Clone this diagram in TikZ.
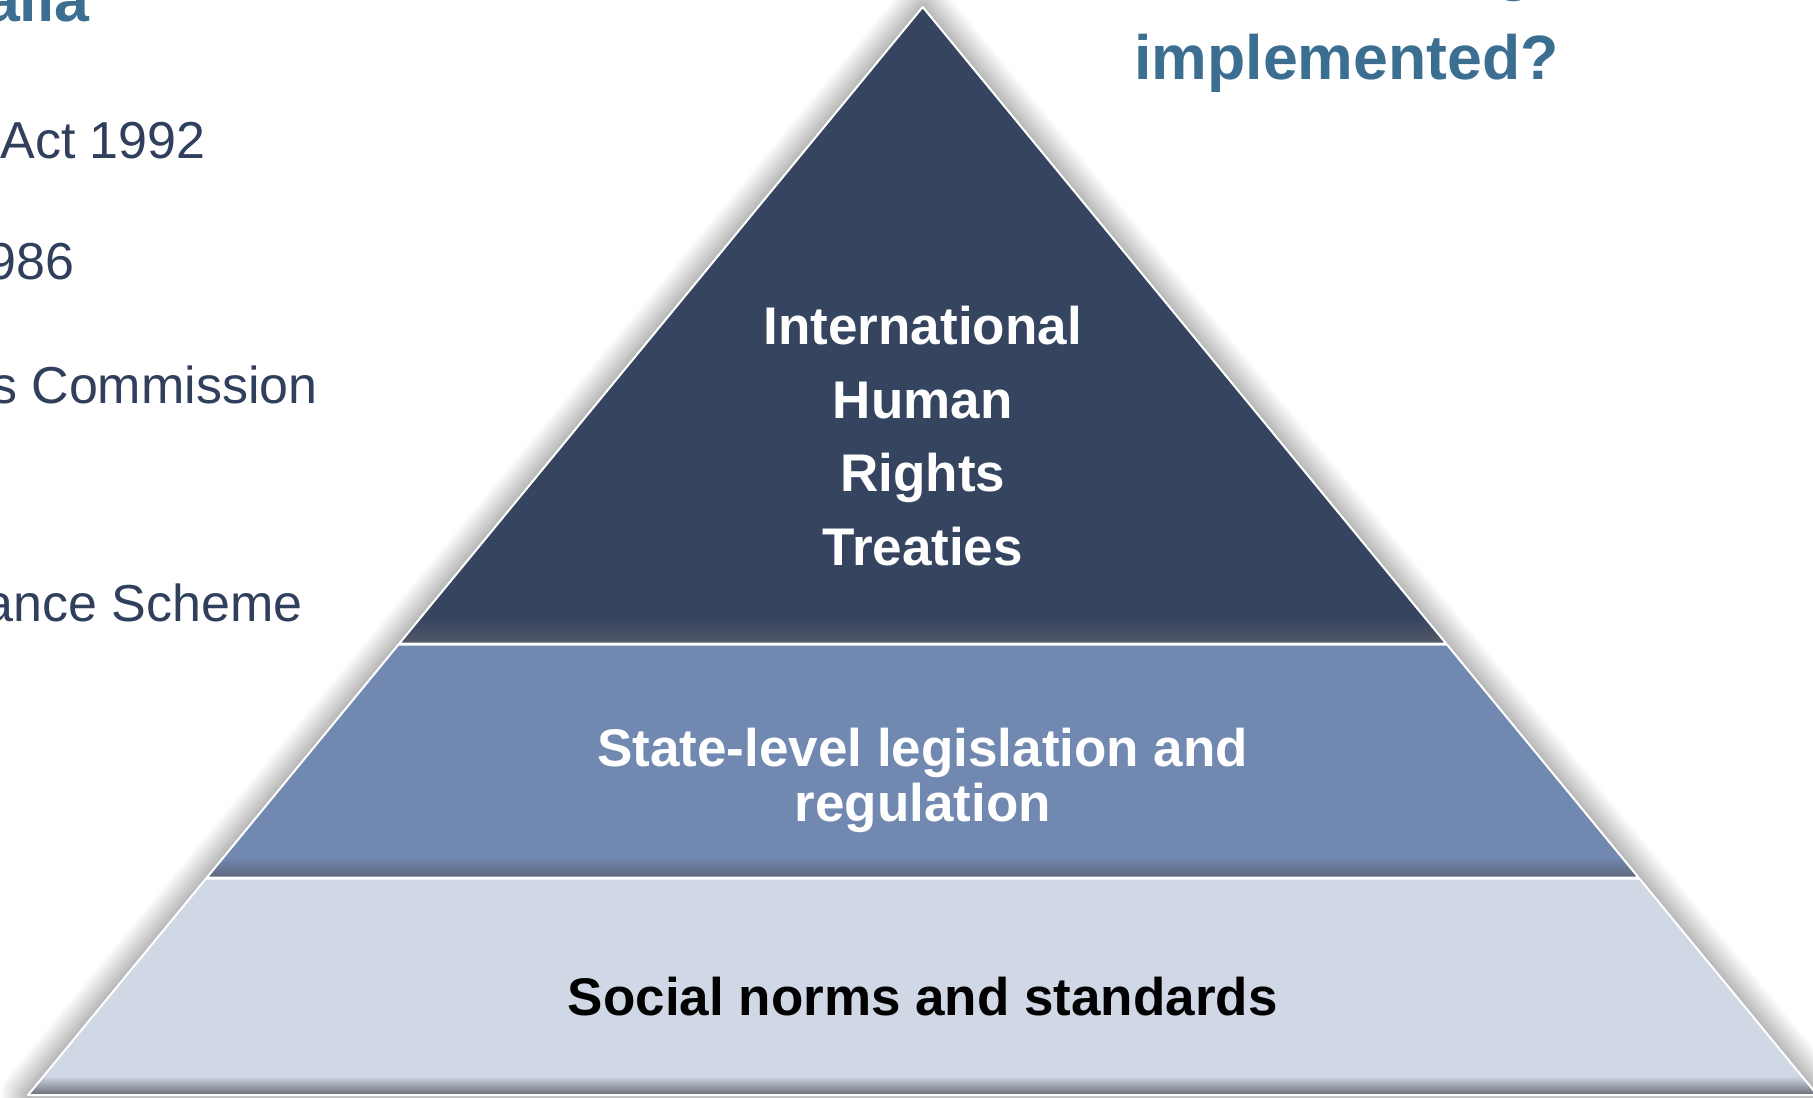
\documentclass[tikz,border=0pt]{standalone}
\usepackage{fontspec}
\setmainfont{Liberation Sans}
\usetikzlibrary{shadows.blur}

\definecolor{tierTop}{HTML}{36455F}
\definecolor{tierMid}{HTML}{7189B1}
\definecolor{tierLow}{HTML}{D0D8E5}
\definecolor{shadeTop}{HTML}{535967}
\definecolor{shadeMid}{HTML}{5F6679}
\definecolor{shadeLow}{HTML}{6A6E77}
\definecolor{titleBlue}{HTML}{3C6E91}
\definecolor{listNavy}{HTML}{2F3F5C}

\begin{document}
\begin{tikzpicture}[x=0.5pt, y=-0.5pt,
	tier label/.style={font=\fontsize{26.5}{32}\selectfont\bfseries, anchor=base, inner sep=0pt},
	list item/.style={font=\fontsize{26}{31}\selectfont, text=listNavy, anchor=base east, inner sep=0pt},
	heading/.style={font=\fontsize{31.3}{37}\selectfont\bfseries, text=titleBlue, inner sep=0pt}]

% Frame
\useasboundingbox (0,0) rectangle (1813,1097);
\clip (0,0) rectangle (1813,1097);

%% PYRAMID
% Glow
\fill[white, blur shadow={shadow xshift=0pt, shadow yshift=0pt, shadow blur radius=14pt, shadow opacity=60, shadow blur steps=12}]
	(922.7,7) -- (1817.4,1095) -- (28,1095) -- cycle;

% Tiers
\foreach \ya/\yb/\ys/\c/\s in {7/643.5/618/tierTop/shadeTop, 644.5/877.5/857/tierMid/shadeMid, 878.5/1095/1076/tierLow/shadeLow}
{
	\begin{scope}
		\clip ({922.7-0.8223*(\ya-7)},\ya) -- ({922.7+0.8223*(\ya-7)},\ya) -- ({922.7+0.8223*(\yb-7)},\yb) -- ({922.7-0.8223*(\yb-7)},\yb) -- cycle;
		\fill[\c] (0,\ya) rectangle (1813,\yb);
		\shade[top color=\c, bottom color=\s] (0,\ys) rectangle (1813,\yb);
	\end{scope}
	\draw[white, line width=1pt, line join=round] ({922.7-0.8223*(\ya-7)},\ya) -- ({922.7+0.8223*(\ya-7)},\ya) -- ({922.7+0.8223*(\yb-7)},\yb) -- ({922.7-0.8223*(\yb-7)},\yb) -- cycle;
}

% Tier labels
\foreach \w [count=\i] in {International, Human, Rights, Treaties}
{
	\node[tier label, text=white] (peak\i) at (922.7, {344.6+73.6*(\i-1)}) {\w};
}
\node[tier label, text=white] (state) at (922.7,766.6) {State-level legislation and};
\node[tier label, text=white] (regulation) at (922.7,821) {regulation};
\node[tier label, text=black] (social) at (922.7,1015) {Social norms and standards};

%% SIDE TEXT
% Headings
\node[heading, anchor=base east] (country) at (90,21.7) {alia};
\node[heading, anchor=base] (upper) at (1515,-11) {g};
\node[heading, anchor=base west] (question) at (1134,80) {implemented?};

% List
\node[list item] (act) at (206,158) {Act 1992};
\node[list item] (year) at (75,279) {986};
\node[list item] (commission) at (318,403) {s Commission};
\node[list item] (scheme) at (303,621.5) {ance Scheme};
\end{tikzpicture}
\end{document}
